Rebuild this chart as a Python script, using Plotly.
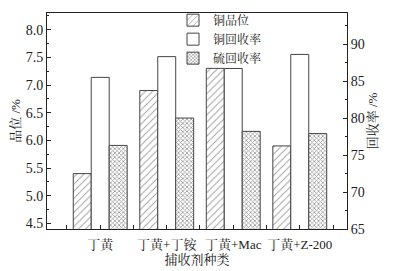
import plotly.graph_objects as go

categories = ["丁黄", "丁黄+丁铵", "丁黄+Mac", "丁黄+Z-200"]
cu_grade = [5.4, 6.9, 7.3, 5.9]
cu_recovery = [85.5, 88.3, 86.7, 88.6]
s_recovery = [76.3, 80.0, 78.2, 77.9]
series_names = ["铜品位", "铜回收率", "硫回收率"]

FONT = "Liberation Serif, Noto Serif CJK SC, Noto Sans CJK SC, serif"
EDGE = "#444444"
x = list(range(len(categories)))
w = 0.27

fig = go.Figure()
fig.add_trace(go.Bar(
    x=x, y=cu_grade, name=series_names[0], yaxis="y",
    width=w, offset=-1.5 * w,
    marker=dict(color="white", line=dict(color=EDGE, width=1),
                pattern=dict(shape="/", fgcolor="#444444", bgcolor="white", size=5, solidity=0.2)),
))
fig.add_trace(go.Bar(
    x=x, y=cu_recovery, name=series_names[1], yaxis="y2",
    width=w, offset=-0.5 * w,
    marker=dict(color="white", line=dict(color=EDGE, width=1)),
))
fig.add_trace(go.Bar(
    x=x, y=s_recovery, name=series_names[2], yaxis="y2",
    width=w, offset=0.5 * w,
    marker=dict(color="white", line=dict(color=EDGE, width=1),
                pattern=dict(shape="x", fgcolor="#333333", bgcolor="white", size=3, solidity=0.45)),
))

# page body has an 8px default margin, so the figure is sized/offset to compensate
fig.update_layout(
    width=388, height=263,
    margin=dict(l=39, r=49, t=5, b=42, autoexpand=False),
    paper_bgcolor="white", plot_bgcolor="white",
    font=dict(family=FONT, size=13, color="#222222"),
    showlegend=True,
    legend=dict(x=0.42, y=1.034, xanchor="left", yanchor="top",
                bgcolor="rgba(0,0,0,0)", font=dict(size=12),
                tracegroupgap=0, itemwidth=30),
    xaxis=dict(
        range=[-0.8, 3.71], tickvals=x, ticktext=categories, automargin=False,
        ticks="inside", ticklen=4, tickcolor="#222", showline=True,
        linecolor="#222", linewidth=1, mirror=True, showgrid=False, zeroline=False,
        minor=dict(tickvals=[-0.5, 0.5, 1.5, 2.5, 3.5], ticks="inside", ticklen=4, tickcolor="#222"),
        tickfont=dict(size=13), ticklabelstandoff=3,
        title=dict(text="捕收剂种类", font=dict(size=13), standoff=1),
    ),
    yaxis=dict(
        range=[4.4, 8.3], dtick=0.5, tickformat=".1f", automargin=False,
        ticks="inside", ticklen=4, tickcolor="#222", showline=True,
        linecolor="#222", linewidth=1, showgrid=False, zeroline=False,
        minor=dict(dtick=0.25, ticks="inside", ticklen=2, tickcolor="#222"),
        tickfont=dict(size=14),
        title=dict(text="品位 /%", font=dict(size=13), standoff=4),
    ),
    yaxis2=dict(
        range=[65, 94.2], dtick=5, overlaying="y", side="right", automargin=False,
        ticks="inside", ticklen=4, tickcolor="#222", showline=True,
        linecolor="#222", linewidth=1, showgrid=False, zeroline=False,
        minor=dict(dtick=2.5, ticks="inside", ticklen=2, tickcolor="#222"),
        tickfont=dict(size=14),
        title=dict(text="回收率 /%", font=dict(size=13), standoff=2),
    ),
)

fig.write_html("out.html")
